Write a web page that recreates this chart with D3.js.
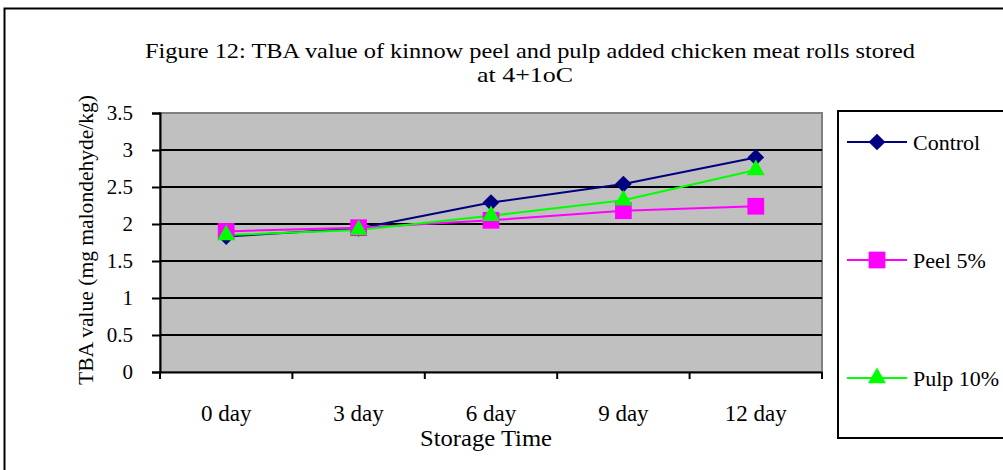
<!DOCTYPE html>
<html>
<head>
<meta charset="utf-8">
<script src="https://cdn.jsdelivr.net/npm/d3@7"></script>
<style>
  body { margin: 0; background: #fff; }
  svg text { font-family: "Liberation Serif", "Times New Roman", serif; fill: #000; }
</style>
</head>
<body>
<div id="chart"></div>
<script>
// chart data
const days = ['0 day', '3 day', '6 day', '9 day', '12 day'];
const controlVals = [1.83, 1.94, 2.29, 2.54, 2.90];
const peelVals = [1.90, 1.95, 2.05, 2.18, 2.24];
const pulpVals = [1.85, 1.92, 2.11, 2.32, 2.73];
const yTicks = [0, 0.5, 1, 1.5, 2, 2.5, 3, 3.5];

const series = [
    { name: 'Control', values: controlVals, color: '#000080', symbol: d3.symbolSquare, size: 140, rot: 45 },
    { name: 'Peel 5%', values: peelVals, color: '#FF00FF', symbol: d3.symbolSquare, size: 280, rot: 0 },
    { name: 'Pulp 10%', values: pulpVals, color: '#00FF00', symbol: d3.symbolTriangle, size: 140, rot: 0 }
];

const width = 1003, height = 470;
const margin = { top: 113, right: 181, bottom: 98, left: 160 };

const svg = d3.select('#chart').append('svg')
    .attr('width', width)
    .attr('height', height);

// outer frame
svg.append('rect')
    .attr('x', 4.5).attr('y', 8.5)
    .attr('width', 1010).attr('height', 480)
    .attr('fill', 'none').attr('stroke', '#000').attr('stroke-width', 2);

const x = d3.scaleBand()
    .domain(days)
    .range([margin.left, width - margin.right]);

const y = d3.scaleLinear()
    .domain([0, 3.5])
    .range([height - margin.bottom, margin.top]);

// plot area
svg.append('rect')
    .attr('x', margin.left).attr('y', margin.top)
    .attr('width', width - margin.right - margin.left)
    .attr('height', height - margin.bottom - margin.top)
    .attr('fill', '#C0C0C0')
    .attr('stroke', '#808080').attr('stroke-width', 2);

// gridlines
svg.append('g')
    .selectAll('line')
    .data(yTicks.filter(d => d > 0 && d < 3.5))
    .join('line')
    .attr('x1', margin.left).attr('x2', width - margin.right)
    .attr('y1', d => y(d)).attr('y2', d => y(d))
    .attr('stroke', '#000').attr('stroke-width', 2);

// y axis
const yAxis = svg.append('g')
    .attr('transform', `translate(${margin.left},0)`)
    .call(d3.axisLeft(y).tickValues(yTicks).tickSize(8).tickPadding(19).tickFormat(d3.format('')));
yAxis.select('.domain').attr('stroke-width', 2);
yAxis.selectAll('.tick line').attr('stroke-width', 2);
yAxis.selectAll('text').style('font-size', '21px').style('font-family', 'Liberation Serif');

// x axis
const xAxis = svg.append('g')
    .attr('transform', `translate(0,${height - margin.bottom})`)
    .call(d3.axisBottom(x).tickSize(0));
xAxis.select('.domain').attr('stroke-width', 2);
xAxis.selectAll('text')
    .attr('y', 49).attr('dy', 0)
    .style('font-size', '23px').style('font-family', 'Liberation Serif');
xAxis.selectAll('.sep')
    .data(days.concat(['end']))
    .join('line')
    .attr('class', 'sep')
    .attr('x1', (d, i) => margin.left + i * x.step())
    .attr('x2', (d, i) => margin.left + i * x.step())
    .attr('y1', 0).attr('y2', 7)
    .attr('stroke', '#000').attr('stroke-width', 2);

// lines and markers
const line = d3.line()
    .x((d, i) => x(days[i]) + x.bandwidth() / 2)
    .y(d => y(d));

series.forEach(s => {
    svg.append('path')
        .datum(s.values)
        .attr('d', line)
        .attr('fill', 'none')
        .attr('stroke', s.color)
        .attr('stroke-width', 2);
});
series.forEach(s => {
    svg.append('g')
        .selectAll('path')
        .data(s.values)
        .join('path')
        .attr('transform', (d, i) => `translate(${x(days[i]) + x.bandwidth() / 2},${y(d)}) rotate(${s.rot})`)
        .attr('d', d3.symbol(s.symbol, s.size))
        .attr('fill', s.color);
});

// title (condensed look via textLength)
svg.append('text')
    .attr('x', 530).attr('y', 58)
    .attr('text-anchor', 'middle')
    .attr('textLength', 770).attr('lengthAdjust', 'spacingAndGlyphs')
    .style('font-size', '22px')
    .text('Figure 12: TBA value  of kinnow peel and pulp added chicken meat rolls stored');
svg.append('text')
    .attr('x', 525).attr('y', 82)
    .attr('text-anchor', 'middle')
    .attr('textLength', 96).attr('lengthAdjust', 'spacingAndGlyphs')
    .style('font-size', '22px')
    .text('at 4+1oC');

// axis titles
svg.append('text')
    .attr('transform', 'translate(93,240) rotate(-90)')
    .attr('text-anchor', 'middle')
    .attr('textLength', 290).attr('lengthAdjust', 'spacingAndGlyphs')
    .style('font-size', '22px')
    .text('TBA value (mg malondehyde/kg)');
svg.append('text')
    .attr('x', 486).attr('y', 446)
    .attr('text-anchor', 'middle')
    .attr('textLength', 132).attr('lengthAdjust', 'spacingAndGlyphs')
    .style('font-size', '23px')
    .text('Storage Time');

// legend
svg.append('rect')
    .attr('x', 838).attr('y', 111)
    .attr('width', 200).attr('height', 327)
    .attr('fill', '#fff').attr('stroke', '#000').attr('stroke-width', 2);

const legendY = [142, 260, 378];
const legend = svg.append('g')
    .selectAll('g')
    .data(series)
    .join('g')
    .attr('transform', (d, i) => `translate(847,${legendY[i]})`);
legend.append('line')
    .attr('x1', 0).attr('x2', 60)
    .attr('stroke', d => d.color).attr('stroke-width', 2);
legend.append('path')
    .attr('transform', d => `translate(30,0) rotate(${d.rot})`)
    .attr('d', d => d3.symbol(d.symbol, d.size)())
    .attr('fill', d => d.color);
legend.append('text')
    .attr('x', 66).attr('dy', '0.35em')
    .style('font-size', '22px')
    .text(d => d.name);
</script>
</body>
</html>
